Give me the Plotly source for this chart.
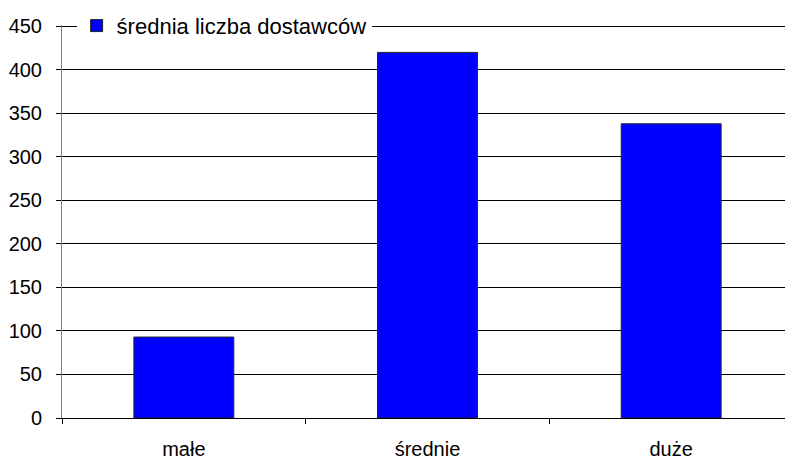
import plotly.graph_objects as go

categories = ["małe", "średnie", "duże"]
values = [93, 420, 338]
series_name = "średnia liczba dostawców"
y_ticks = [0, 50, 100, 150, 200, 250, 300, 350, 400, 450]

fig = go.Figure()
fig.add_trace(go.Bar(
    x=categories, y=values, name=series_name,
    marker=dict(color="#0000FF", line=dict(color="#222222", width=1)),
    width=0.41, showlegend=True,
))

font_family = "Liberation Sans, Arial, sans-serif"
# page body has an 8px default margin, so the figure is sized to fit the window
fig.update_layout(
    width=785, height=451,
    margin=dict(l=54, r=0, t=17, b=41, autoexpand=False),
    paper_bgcolor="white", plot_bgcolor="white",
    font=dict(family=font_family, size=20, color="black"),
    showlegend=True,
    legend=dict(
        x=0.02, xanchor="left", y=0.998, yanchor="middle",
        bgcolor="white", borderwidth=0,
        font=dict(family=font_family, size=22, color="black"),
        itemwidth=30,
        entrywidth=330,
    ),
    xaxis=dict(
        type="category", range=[-0.5, 2.5],
        showline=True, linecolor="black", linewidth=1,
        ticks="outside", tickson="boundaries", ticklen=5, tickcolor="black",
        showgrid=False, zeroline=False,
        tickfont=dict(size=20),
        ticklabelstandoff=13,
        automargin=False,
    ),
    yaxis=dict(
        range=[0, 451.5], tickvals=y_ticks,
        showline=True, linecolor="#808080", linewidth=1,
        ticks="outside", ticklen=5, tickcolor="black",
        showgrid=True, gridcolor="black", gridwidth=1,
        zeroline=False,
        tickfont=dict(size=20),
        ticklabelstandoff=10,
        automargin=False,
    ),
)

fig.write_html("out.html")
